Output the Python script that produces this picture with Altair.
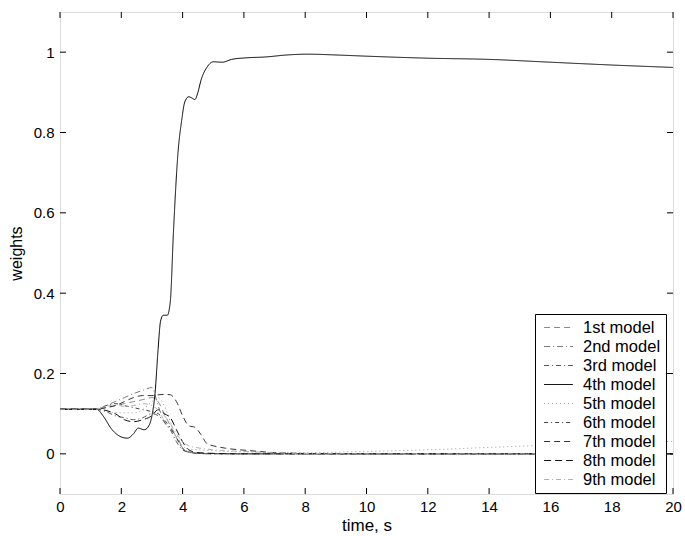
import altair as alt
import pandas as pd

models = ["1st model", "2nd model", "3rd model", "4th model", "5th model",
          "6th model", "7th model", "8th model", "9th model"]

t_common = [0, 1.2, 1.5, 1.8, 2.1, 2.4, 2.7, 3.0, 3.2, 3.4, 3.6, 3.8, 4.0,
            4.2, 4.5, 5.0, 6.0, 8.0, 10, 12, 14, 16, 18, 20]

w1 = [0.111, 0.111, 0.115, 0.120, 0.125, 0.130, 0.135, 0.140, 0.130, 0.100, 0.070, 0.040, 0.015,
      0.005, 0.002, 0.001, 0.0, 0.0, 0.0, 0.0, 0.0, 0.0, 0.0, 0.0]
w2 = [0.111, 0.111, 0.120, 0.130, 0.140, 0.150, 0.158, 0.165, 0.120, 0.080, 0.060, 0.045, 0.015,
      0.005, 0.002, 0.001, 0.0, 0.0, 0.0, 0.0, 0.0, 0.0, 0.0, 0.0]
w3 = [0.111, 0.111, 0.105, 0.095, 0.090, 0.085, 0.090, 0.100, 0.095, 0.080, 0.060, 0.030, 0.010,
      0.004, 0.001, 0.0, 0.0, 0.0, 0.0, 0.0, 0.0, 0.0, 0.0, 0.0]
w5 = [0.111, 0.111, 0.105, 0.103, 0.102, 0.102, 0.110, 0.130, 0.140, 0.120, 0.080, 0.040, 0.020,
      0.012, 0.010, 0.008, 0.005, 0.003, 0.006, 0.010, 0.016, 0.022, 0.027, 0.031]
w6 = [0.111, 0.111, 0.120, 0.125, 0.120, 0.115, 0.110, 0.105, 0.100, 0.085, 0.065, 0.040, 0.012,
      0.004, 0.001, 0.0, 0.0, 0.0, 0.0, 0.0, 0.0, 0.0, 0.0, 0.0]
w8 = [0.111, 0.111, 0.108, 0.100, 0.085, 0.080, 0.085, 0.095, 0.110, 0.100, 0.090, 0.060, 0.030,
      0.010, 0.003, 0.001, 0.0, 0.0, 0.0, 0.0, 0.0, 0.0, 0.0, 0.0]
w9 = [0.111, 0.111, 0.118, 0.122, 0.118, 0.120, 0.125, 0.120, 0.110, 0.095, 0.075, 0.050, 0.030,
      0.020, 0.015, 0.010, 0.006, 0.001, 0.0, 0.0, 0.0, 0.0, 0.0, 0.0]

t7 = [0, 1.2, 1.5, 1.8, 2.1, 2.4, 2.7, 3.0, 3.2, 3.4, 3.6, 3.8, 4.0, 4.2, 4.4,
      4.6, 4.8, 5.0, 5.4, 6.2, 7.0, 8.0, 10, 20]
w7 = [0.111, 0.111, 0.115, 0.120, 0.130, 0.140, 0.145, 0.145, 0.147, 0.148, 0.147, 0.130, 0.095,
      0.070, 0.066, 0.048, 0.025, 0.020, 0.014, 0.008, 0.003, 0.001, 0.0, 0.0]

t4 = [0, 1.2, 1.4, 1.7, 2.0, 2.2, 2.4, 2.55, 2.75, 2.9, 3.0, 3.1, 3.2, 3.28, 3.37,
      3.5, 3.6, 3.7, 3.85, 3.97, 4.05, 4.13, 4.2, 4.3, 4.4, 4.5, 4.6, 4.8, 5.0,
      5.3, 5.6, 6.1, 6.7, 7.4, 8.1, 9.0, 10, 12, 14, 16, 18, 20]
w4 = [0.111, 0.111, 0.095, 0.060, 0.042, 0.039, 0.050, 0.064, 0.060, 0.070, 0.095, 0.150, 0.260,
      0.330, 0.345, 0.345, 0.380, 0.550, 0.750, 0.830, 0.870, 0.885, 0.889, 0.886, 0.882, 0.900,
      0.930, 0.963, 0.976, 0.975, 0.982, 0.986, 0.988, 0.993, 0.995, 0.993, 0.990, 0.985, 0.982,
      0.975, 0.968, 0.962]

series = {
    "1st model": (t_common, w1), "2nd model": (t_common, w2), "3rd model": (t_common, w3),
    "4th model": (t4, w4), "5th model": (t_common, w5), "6th model": (t_common, w6),
    "7th model": (t7, w7), "8th model": (t_common, w8), "9th model": (t_common, w9),
}

colors = ["#8a8a8a", "#7a7a7a", "#555555", "#000000", "#9a9a9a",
          "#444444", "#333333", "#111111", "#b0b0b0"]
dashes = [[6, 4], [6, 3, 1, 3], [5, 3, 1, 3], [1, 0], [1, 3],
          [4, 3, 1, 3], [6, 4], [7, 4], [5, 3, 1, 3]]

x_ticks = [0, 2, 4, 6, 8, 10, 12, 14, 16, 18, 20]
y_ticks = [0, 0.2, 0.4, 0.6, 0.8, 1.0]

rows = []
for order, m in enumerate(models):
    ts, ws = series[m]
    for tv, wv in zip(ts, ws):
        rows.append({"model": m, "t": tv, "w": wv, "order": order})
df = pd.DataFrame(rows)

W, H = 613, 482
FONT = "Liberation Sans"

xs = alt.Scale(domain=[0, 20], nice=False, zero=False)
ys = alt.Scale(domain=[-0.1, 1.1], nice=False, zero=False)

x_axis = alt.Axis(values=x_ticks, ticks=False, domain=False, grid=False, labelFlush=False,
                  labelPadding=5, titlePadding=3, labelFontSize=15,
                  titleFontSize=17, titleFontWeight="normal")
y_axis = alt.Axis(values=y_ticks, format="~g", ticks=False, domain=False, grid=False,
                  labelFlush=False, labelPadding=6, titlePadding=9, labelFontSize=15,
                  titleFontSize=16, titleFontWeight="normal")

leg = alt.Legend(title=None, orient="none", legendX=475, legendY=302,
                 symbolType="M-1.8,0H1.8", symbolSize=256, symbolStrokeWidth=1,
                 labelFontSize=16.5, labelFont=FONT, labelColor="black",
                 rowPadding=2, padding=5, symbolOffset=10, labelOffset=16,
                 strokeColor="black", fillColor="white", cornerRadius=0)

lines = alt.Chart(df).mark_line(strokeWidth=1, interpolate="monotone").encode(
    x=alt.X("t:Q", scale=xs, title="time, s", axis=x_axis),
    y=alt.Y("w:Q", scale=ys, title="weights", axis=y_axis),
    color=alt.Color("model:N", scale=alt.Scale(domain=models, range=colors), legend=leg),
    strokeDash=alt.StrokeDash("model:N", scale=alt.Scale(domain=models, range=dashes), legend=leg),
    order=alt.Order("order:Q"),
    detail="model:N",
)

xt_df = pd.DataFrame({"t": x_ticks})
yt_df = pd.DataFrame({"w": y_ticks})
TL = 6
xt_bottom = alt.Chart(xt_df).mark_rule(color="black", strokeWidth=1).encode(
    x=alt.X("t:Q", scale=xs, title="time, s", axis=x_axis), y=alt.value(H - TL), y2=alt.value(H))
xt_top = alt.Chart(xt_df).mark_rule(color="black", strokeWidth=1).encode(
    x=alt.X("t:Q", scale=xs, title="time, s", axis=x_axis), y=alt.value(0), y2=alt.value(TL))
yt_left = alt.Chart(yt_df).mark_rule(color="black", strokeWidth=1).encode(
    y=alt.Y("w:Q", scale=ys, title="weights", axis=y_axis), x=alt.value(0), x2=alt.value(TL))
yt_right = alt.Chart(yt_df).mark_rule(color="black", strokeWidth=1).encode(
    y=alt.Y("w:Q", scale=ys, title="weights", axis=y_axis), x=alt.value(W - TL), x2=alt.value(W))

chart = alt.layer(lines, xt_bottom, xt_top, yt_left, yt_right).properties(
    width=W, height=H,
    autosize=alt.AutoSizeParams(type="none"),
    padding={"left": 60, "top": 12, "right": 12, "bottom": 42},
).configure_view(stroke="black", strokeWidth=1).configure_axis(
    labelFont=FONT, titleFont=FONT, labelColor="black", titleColor="black"
).configure(background="white")

chart.save("out.html", embed_options={"renderer": "svg", "actions": False})
